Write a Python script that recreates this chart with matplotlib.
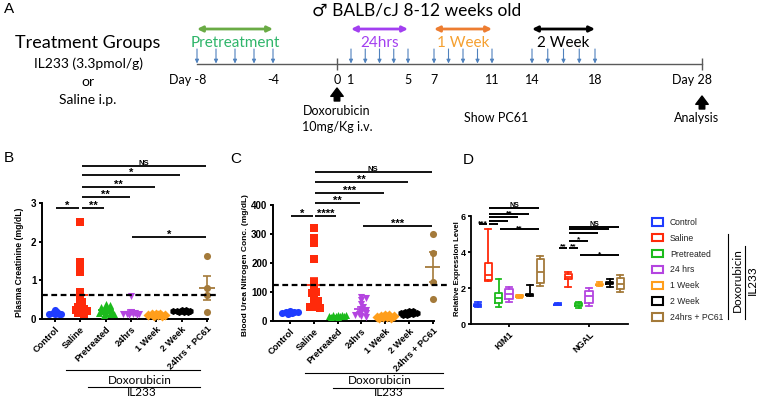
import numpy as np
import matplotlib
matplotlib.use("Agg")
import matplotlib.pyplot as plt
from matplotlib.lines import Line2D
from matplotlib.patches import Patch
from matplotlib.transforms import blended_transform_factory

plt.rcParams["font.family"] = ["Liberation Sans", "DejaVu Sans"]
CAL = ["Lato", "DejaVu Sans"]  # Calibri-like text of panel A and group labels

W, H = 758, 400

# ---------------- data ----------------
groups = ["Control", "Saline", "Pretreated", "24hrs", "1 Week", "2 Week", "24hrs + PC61"]
legend_labels = ["Control", "Saline", "Pretreated", "24 hrs", "1 Week", "2 Week", "24hrs + PC61"]
group_colors = ["#1f3cff", "#ff2a0a", "#1cbb1c", "#b445e0", "#ff9e1b", "#000000", "#a47a3a"]
group_markers = ["o", "s", "^", "v", "D", "h", "o"]

# Panel A: timeline
timeline_days = [-8, -4, 0, 1, 5, 7, 11, 14, 18, 28]
injection_days = [-8, -7, -6, -5, -4, 1, 2, 3, 4, 5, 7, 8, 9, 10, 11, 14, 15, 16, 17, 18]
phase_names = ["Pretreatment", "24hrs", "1 Week", "2 Week"]
phase_start = [-8, 1, 7, 14]
phase_end = [-4, 5, 11, 18]
phase_arrow_colors = ["#6aab45", "#a23ff0", "#ed7d31", "#000000"]
phase_text_colors = ["#2fb56a", "#a23ff0", "#f5a030", "#000000"]

# Panel B: plasma creatinine (mg/dL)
creat_control = [0.12, 0.13, 0.15, 0.14, 0.17, 0.22, 0.12]
creat_saline = [2.5, 1.46, 1.29, 1.21, 0.7, 0.62, 0.5, 0.45, 0.38, 0.33, 0.3, 0.27,
                0.24, 0.22, 0.2, 0.18, 0.15, 0.12]
creat_pretreated = [0.4, 0.36, 0.32, 0.3, 0.28, 0.25, 0.22, 0.2, 0.18, 0.16, 0.15, 0.13, 0.12, 0.1]
creat_24hrs = [0.6, 0.17, 0.15, 0.14, 0.13, 0.12, 0.12, 0.11, 0.1]
creat_1week = [0.14, 0.13, 0.12, 0.11, 0.1, 0.1, 0.09, 0.08]
creat_2week = [0.22, 0.22, 0.21, 0.2, 0.2, 0.19, 0.18, 0.17]
creat_pc61 = [1.62, 0.8, 0.62, 0.18]
creat_sig_a = [0, 1, 1, 1, 1, 1, 3]
creat_sig_b = [1, 2, 3, 4, 5, 6, 6]
creat_sig_y = [2.87, 2.87, 3.15, 3.41, 3.72, 3.96, 2.12]
creat_sig_text = ["*", "**", "**", "**", "*", "NS", "*"]

# Panel C: blood urea nitrogen (mg/dL)
bun_control = [25, 28, 30, 32, 35, 27, 30]
bun_saline = [322, 285, 270, 214, 135, 120, 108, 100, 95, 85, 72, 68, 60, 55, 50, 48, 46]
bun_pretreated = [14, 16, 18, 20, 22, 15, 17, 19, 21, 16]
bun_24hrs = [82, 78, 72, 58, 50, 42, 38, 32, 28, 25, 22, 18, 15]
bun_1week = [10, 12, 14, 16, 18, 20, 22, 15, 13]
bun_2week = [20, 22, 25, 28, 30, 33, 35, 27, 24]
bun_pc61 = [300, 235, 135, 75]
bun_sig_a = [0, 1, 1, 1, 1, 1, 3]
bun_sig_b = [1, 2, 3, 4, 5, 6, 6]
bun_sig_y = [362, 362, 407, 441, 479, 514, 328]
bun_sig_text = ["*", "****", "**", "***", "**", "NS", "***"]

# Panel D: relative expression (box plots)
markers_d = ["KIM1", "NGAL"]
kim1_low = [0.95, 2.4, 0.95, 1.24, 1.45, 1.58, 2.13]
kim1_q1 = [1.0, 2.45, 1.15, 1.37, 1.48, 1.6, 2.26]
kim1_med = [1.05, 2.72, 1.43, 1.69, 1.55, 1.63, 2.9]
kim1_q3 = [1.1, 3.4, 1.74, 1.93, 1.6, 1.66, 3.6]
kim1_high = [1.22, 5.3, 2.5, 2.07, 1.62, 2.17, 3.8]
ngal_low = [1.03, 2.07, 0.87, 1.0, 2.13, 2.07, 1.76]
ngal_q1 = [1.06, 2.5, 0.98, 1.15, 2.14, 2.2, 1.93]
ngal_med = [1.09, 2.63, 1.06, 1.56, 2.16, 2.27, 2.2]
ngal_q3 = [1.12, 2.76, 1.15, 1.85, 2.2, 2.33, 2.57]
ngal_high = [1.14, 2.91, 1.24, 1.98, 2.31, 2.48, 2.72]
kim1_sig_a = [0, 1, 1, 1, 1, 1, 2]
kim1_sig_b = [1, 2, 3, 4, 5, 6, 6]
kim1_sig_y = [5.56, 5.56, 5.74, 5.93, 6.09, 6.43, 5.28]
kim1_sig_text = ["***", "", "", "", "**", "NS", "**"]
ngal_sig_a = [0, 1, 1, 1, 1, 1, 2]
ngal_sig_b = [1, 2, 3, 4, 5, 6, 6]
ngal_sig_y = [4.24, 4.24, 4.63, 5.07, 5.26, 5.41, 3.81]
ngal_sig_text = ["**", "**", "*", "", "", "NS", "*"]

# ---------------- layout (pixels) ----------------
TIMELINE_PX = [197, 273, 337, 351, 408, 434, 492, 532, 595, 702]


def frac_rect(left, right, bottom, top):
    return [left / W, 1 - bottom / H, (right - left) / W, (bottom - top) / H]


def swarm(vals, px_per_unit, spacing_px, size_px):
    # compact, overlapping spread of points around the category centre
    vals = np.asarray(vals, float)
    placed = []
    offs = np.zeros(len(vals))
    for i in np.argsort(vals)[::-1]:
        y = vals[i] * px_per_unit
        best_x, best_d = 0.0, -1.0
        for k in [0, 1, -1, 2, -2, 3, -3, 4, -4]:
            x = k * size_px * 0.32
            d = min([np.hypot(x - px, y - py) for px, py in placed], default=1e9)
            if d >= 0.42 * size_px:
                best_x = x
                break
            if d > best_d:
                best_x, best_d = x, d
        placed.append((best_x, y))
        offs[i] = best_x / spacing_px
    return offs


def style_axis(ax, ylim_top_spine, xmax_spine, lw=1.4):
    for s in ["top", "right"]:
        ax.spines[s].set_visible(False)
    ax.spines["left"].set_linewidth(lw)
    ax.spines["bottom"].set_linewidth(lw)
    ax.spines["left"].set_bounds(0, ylim_top_spine)
    ax.spines["bottom"].set_bounds(ax.get_xlim()[0], xmax_spine)
    ax.tick_params(direction="out", length=2.5, width=lw, pad=1.5)
    for t in ax.get_yticklabels():
        t.set_fontweight("bold")


def sig_bars(ax, sa, sb, sy, stext, pos, fs_star, fs_ns, lw, gap):
    for a, b, y, t in zip(sa, sb, sy, stext):
        ax.plot([pos[a] + gap, pos[b] - gap], [y, y], color="black", lw=lw,
                clip_on=False, solid_capstyle="butt", zorder=6)
        if t:
            star = "*" in t
            ax.annotate(t, xy=((pos[a] + pos[b]) / 2, y), xytext=(0, -0.6 if star else 0.8),
                        textcoords="offset points", ha="center", va="baseline",
                        fontsize=fs_star if star else fs_ns, fontweight="bold",
                        annotation_clip=False)


def dot_panel(ax, data, px_per_unit, spacing_px):
    for i, vals in enumerate(data):
        vals = np.asarray(vals, float)
        off = swarm(vals, px_per_unit, spacing_px, 6.5)
        ax.scatter(i + off, vals, s=26, marker=group_markers[i], color=group_colors[i],
                   linewidths=0, zorder=3, clip_on=False)
        m = vals.mean()
        sem = vals.std(ddof=1) / np.sqrt(len(vals))
        ax.hlines(m, i - 0.32, i + 0.32, color=group_colors[i], lw=1.3, zorder=4)
        ax.errorbar(i, m, yerr=sem, fmt="none", ecolor=group_colors[i], elinewidth=1.2,
                    capsize=2.6, capthick=1.2, zorder=4)
    ax.axhline(np.mean(data[1]), color="black", lw=1.6, dashes=(2.6, 1.6), zorder=5)
    ax.set_xticks(range(len(groups)))
    ax.set_xticklabels(groups, rotation=45, ha="right", rotation_mode="anchor",
                       fontsize=6.6, fontweight="bold")


def group_brackets(ax, dox_x, il_x, text_x, y_px, axes_bottom_px, axes_height_px):
    tr = ax.get_xaxis_transform()
    f = lambda py: (axes_bottom_px - py) / axes_height_px
    ax.plot(dox_x, [f(y_px[0])] * 2, color="black", lw=0.8, transform=tr, clip_on=False)
    ax.plot(il_x, [f(y_px[2])] * 2, color="black", lw=0.8, transform=tr, clip_on=False)
    ax.text(text_x[0], f(y_px[1]), "Doxorubicin", transform=tr, ha="center", va="center",
            fontsize=8.5, family=CAL)
    ax.text(text_x[1], f(y_px[3]), "IL233", transform=tr, ha="center", va="center",
            fontsize=8.5, family=CAL)


fig = plt.figure(figsize=(W / 100, H / 100), dpi=100)

# ---------------- Panel A ----------------
ax_a = fig.add_axes(frac_rect(0, W, 150, 0))
ax_a.axis("off")
ext_days = [-60] + timeline_days + [80]
ext_px = [TIMELINE_PX[0] - 52 * 19] + TIMELINE_PX + [TIMELINE_PX[-1] + 52 * 10.7]
fwd = lambda d: np.interp(d, ext_days, ext_px)
inv = lambda p: np.interp(p, ext_px, ext_days)
ax_a.set_xscale("function", functions=(fwd, inv))
ax_a.set_xlim(float(inv(0)), float(inv(W)))
ax_a.set_ylim(150, 0)
tl = blended_transform_factory(ax_a.transAxes, ax_a.transData)

ax_a.text(4 / W, 9, "A", transform=tl, fontsize=11, va="center")
ax_a.text(417 / W, 10, "\u2642 BALB/cJ 8-12 weeks old", transform=tl, ha="center", va="center",
          fontsize=12.5, family=CAL)
ax_a.text(88 / W, 43, "Treatment Groups", transform=tl, ha="center", va="center",
          fontsize=13, family=CAL)
for txt, y in zip(["IL233 (3.3pmol/g)", "or", "Saline i.p."], [64, 82, 100]):
    ax_a.text(88 / W, y, txt, transform=tl, ha="center", va="center", fontsize=10, family=CAL)

ax_a.plot([timeline_days[0], timeline_days[-1]], [64, 64], color="#5a5a5a", lw=1)
ax_a.vlines([0, 28], 58, 70, color="#5a5a5a", lw=1)
for d in injection_days:
    ax_a.annotate("", xy=(d, 63.5), xytext=(d, 49),
                  arrowprops=dict(arrowstyle="-|>", color="#4f81bd", lw=0.8,
                                  mutation_scale=5.5, shrinkA=0, shrinkB=0))
for name, s, e, ca, ct in zip(phase_names, phase_start, phase_end,
                              phase_arrow_colors, phase_text_colors):
    ax_a.annotate("", xy=(e, 29), xytext=(s, 29),
                  arrowprops=dict(arrowstyle="<|-|>", color=ca, lw=2,
                                  mutation_scale=8, shrinkA=0, shrinkB=0))
    mid = float(inv((fwd(s) + fwd(e)) / 2))
    ax_a.text(mid, 43, name, ha="center", va="center", fontsize=11, color=ct, family=CAL)
for d in timeline_days:
    if d in (timeline_days[0], timeline_days[-1]):
        ax_a.annotate(f"Day {d}", xy=(d, 80), xytext=(7, 0), textcoords="offset points",
                      ha="right", va="center", fontsize=9, family=CAL)
    else:
        ax_a.text(d, 80, str(d), ha="center", va="center", fontsize=9, family=CAL)

big_arrow = dict(arrowstyle="simple,head_width=0.9,head_length=0.6,tail_width=0.4",
                 color="black", shrinkA=0, shrinkB=0)
ax_a.annotate("", xy=(0, 88), xytext=(0, 101), arrowprops=dict(big_arrow, mutation_scale=10))
ax_a.annotate("", xy=(28, 96), xytext=(28, 109), arrowprops=dict(big_arrow, mutation_scale=10))
ax_a.text(0, 111, "Doxorubicin", ha="center", va="center", fontsize=9, family=CAL)
ax_a.text(0, 127, "10mg/Kg i.v.", ha="center", va="center", fontsize=9, family=CAL)
ax_a.text(float(inv(496)), 118, "Show PC61", ha="center", va="center", fontsize=9, family=CAL)
ax_a.text(float(inv(697)), 118, "Analysis", ha="center", va="center", fontsize=9, family=CAL)

# ---------------- Panel B ----------------
ax_b = fig.add_axes(frac_rect(42, 217, 319, 159))
ax_b.set_xlim((42 - 55) / 25.3, (217 - 55) / 25.3)
ax_b.set_ylim(0, 160 / 38.7)
creat_data = [creat_control, creat_saline, creat_pretreated, creat_24hrs,
              creat_1week, creat_2week, creat_pc61]
dot_panel(ax_b, creat_data, 38.7, 25.3)
ax_b.set_yticks([0, 1, 2, 3])
ax_b.set_yticklabels(["0", "1", "2", "3"], fontsize=7)
ax_b.set_ylabel("Plasma Creatinine (mg/dL)", fontsize=6.2, fontweight="bold")
ax_b.yaxis.set_label_coords(-0.103, 0.356)
style_axis(ax_b, 3, 6.05)
sig_bars(ax_b, creat_sig_a, creat_sig_b, creat_sig_y, creat_sig_text,
         list(range(7)), 8, 5.5, 1.3, 0.05)
group_brackets(ax_b, [0.43, 5.73], [1.3, 5.73], [3.36, 3.44], [370, 380, 387, 392], 319, 160)
fig.text(4 / W, 1 - 158 / H, "B", fontsize=11, va="center")

# ---------------- Panel C ----------------
ax_c = fig.add_axes(frac_rect(273, 447, 321, 161))
ax_c.set_xlim((273 - 290) / 23.8, (447 - 290) / 23.8)
ax_c.set_ylim(0, 160 / 0.29)
bun_data = [bun_control, bun_saline, bun_pretreated, bun_24hrs, bun_1week, bun_2week, bun_pc61]
dot_panel(ax_c, bun_data, 0.29, 23.8)
ax_c.set_yticks([0, 100, 200, 300, 400])
ax_c.set_yticklabels(["0", "100", "200", "300", "400"], fontsize=7)
ax_c.set_ylabel("Blood Urea Nitrogen Conc. (mg/dL)", fontsize=6, fontweight="bold")
ax_c.yaxis.set_label_coords(-0.138, 0.35)
style_axis(ax_c, 400, 6.05)
sig_bars(ax_c, bun_sig_a, bun_sig_b, bun_sig_y, bun_sig_text, list(range(7)), 8, 5.5, 1.3, 0.05)
group_brackets(ax_c, [0.63, 6.43], [1.81, 6.43], [3.78, 4.16], [373, 381, 388, 393], 321, 160)
fig.text(230 / W, 1 - 159 / H, "C", fontsize=11, va="center")

# ---------------- Panel D ----------------
ax_d = fig.add_axes(frac_rect(471, 628, 324, 196))
ax_d.set_xlim(-0.475, 1.4875)
ax_d.set_ylim(0, 128 / 18)
offsets = [(i - 3) * 0.13 for i in range(7)]
for g, (lo, q1, md, q3, hi) in enumerate([(kim1_low, kim1_q1, kim1_med, kim1_q3, kim1_high),
                                          (ngal_low, ngal_q1, ngal_med, ngal_q3, ngal_high)]):
    for i in range(7):
        st = [dict(whislo=lo[i], q1=q1[i], med=md[i], q3=q3[i], whishi=hi[i], fliers=[])]
        c = group_colors[i]
        ax_d.bxp(st, positions=[g + offsets[i]], widths=0.09, capwidths=0.07,
                 showfliers=False, manage_ticks=False,
                 boxprops=dict(color=c, lw=1.3), whiskerprops=dict(color=c, lw=1.3),
                 capprops=dict(color=c, lw=1.3), medianprops=dict(color=c, lw=1.3))
ax_d.set_xticks([0, 1])
ax_d.set_xticklabels(markers_d, rotation=45, ha="right", rotation_mode="anchor",
                     fontsize=6.5, fontweight="bold")
ax_d.set_yticks([0, 2, 4, 6])
ax_d.set_yticklabels(["0", "2", "4", "6"], fontsize=6.5)
ax_d.set_ylabel("Relative Expression Level", fontsize=5.6, fontweight="bold")
ax_d.yaxis.set_label_coords(-0.064, 0.43)
style_axis(ax_d, 6, ax_d.get_xlim()[1], lw=1.3)
sig_bars(ax_d, kim1_sig_a, kim1_sig_b, kim1_sig_y, kim1_sig_text,
         [0 + o for o in offsets], 6, 5, 1.4, 0.012)
sig_bars(ax_d, ngal_sig_a, ngal_sig_b, ngal_sig_y, ngal_sig_text,
         [1 + o for o in offsets], 6, 5, 1.4, 0.012)
fig.text(463 / W, 1 - 160 / H, "D", fontsize=11, va="center")

handles = [Patch(facecolor="white", edgecolor=c, linewidth=1.5) for c in group_colors]
fig.legend(handles, legend_labels, loc="upper left", bbox_to_anchor=(652 / W, 1 - 218 / H),
           frameon=False, fontsize=6.2, handlelength=1.28, handleheight=0.93,
           handletextpad=0.81, labelspacing=0.79, borderpad=0, borderaxespad=0,
           labelcolor="#222222")

for x, y0, y1 in [(728, 234, 319), (745, 246, 319)]:
    fig.add_artist(Line2D([x / W, x / W], [1 - y0 / H, 1 - y1 / H], color="black", lw=0.8))
fig.text(737 / W, 1 - 280 / H, "Doxorubicin", rotation=90, ha="center", va="center",
         fontsize=8.5, family=CAL)
fig.text(752 / W, 1 - 280 / H, "IL233", rotation=90, ha="center", va="center",
         fontsize=8.5, family=CAL)

fig.savefig("out.png", dpi=100)
